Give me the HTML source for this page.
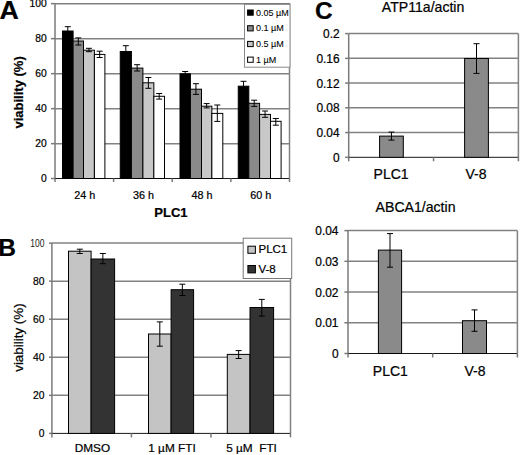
<!DOCTYPE html>
<html><head><meta charset="utf-8"><style>
html,body{margin:0;padding:0;background:#fff;}
svg{display:block;font-family:"Liberation Sans",sans-serif;}
text{fill:#000;stroke:#000;stroke-width:0.22px;}
</style></head><body>
<svg width="520" height="455" viewBox="0 0 520 455">
<rect width="520" height="455" fill="#fff"/>
<line x1="55" y1="3.65" x2="289.5" y2="3.65" stroke="#828282" stroke-width="1.5"/>
<line x1="55" y1="38.65" x2="289.5" y2="38.65" stroke="#828282" stroke-width="1.5"/>
<line x1="55" y1="73.65" x2="289.5" y2="73.65" stroke="#828282" stroke-width="1.5"/>
<line x1="55" y1="108.65" x2="289.5" y2="108.65" stroke="#828282" stroke-width="1.5"/>
<line x1="55" y1="143.65" x2="289.5" y2="143.65" stroke="#828282" stroke-width="1.5"/>
<line x1="51" y1="3.65" x2="55" y2="3.65" stroke="#7a7a7a" stroke-width="1.5"/>
<line x1="51" y1="38.65" x2="55" y2="38.65" stroke="#7a7a7a" stroke-width="1.5"/>
<line x1="51" y1="73.65" x2="55" y2="73.65" stroke="#7a7a7a" stroke-width="1.5"/>
<line x1="51" y1="108.65" x2="55" y2="108.65" stroke="#7a7a7a" stroke-width="1.5"/>
<line x1="51" y1="143.65" x2="55" y2="143.65" stroke="#7a7a7a" stroke-width="1.5"/>
<line x1="51" y1="178.5" x2="55" y2="178.5" stroke="#7a7a7a" stroke-width="1.5"/>
<line x1="289.5" y1="3.65" x2="289.5" y2="178.5" stroke="#828282" stroke-width="1.5"/>
<line x1="55" y1="3.65" x2="55" y2="178.5" stroke="#7a7a7a" stroke-width="1.5"/>
<line x1="55" y1="178.5" x2="289.5" y2="178.5" stroke="#1a1a1a" stroke-width="1"/>
<line x1="55" y1="178.5" x2="55" y2="182" stroke="#7a7a7a" stroke-width="1.5"/>
<line x1="113.62" y1="178.5" x2="113.62" y2="182" stroke="#7a7a7a" stroke-width="1.5"/>
<line x1="172.25" y1="178.5" x2="172.25" y2="182" stroke="#7a7a7a" stroke-width="1.5"/>
<line x1="230.88" y1="178.5" x2="230.88" y2="182" stroke="#7a7a7a" stroke-width="1.5"/>
<line x1="289.5" y1="178.5" x2="289.5" y2="182" stroke="#7a7a7a" stroke-width="1.5"/>
<rect x="62.5" y="31" width="10.6" height="147.5" fill="#000" stroke="#000" stroke-width="1"/>
<rect x="73.1" y="41" width="10.4" height="137.5" fill="#8a8a8a" stroke="#000" stroke-width="1"/>
<rect x="83.5" y="50.2" width="10.9" height="128.3" fill="#c8c8c8" stroke="#000" stroke-width="1"/>
<rect x="94.4" y="54.4" width="10.5" height="124.1" fill="#fff" stroke="#000" stroke-width="1"/>
<line x1="67.8" y1="26.7" x2="67.8" y2="35.3" stroke="#000" stroke-width="1"/>
<line x1="64.8" y1="26.7" x2="70.8" y2="26.7" stroke="#000" stroke-width="1"/>
<line x1="64.8" y1="35.3" x2="70.8" y2="35.3" stroke="#000" stroke-width="1"/>
<line x1="78.3" y1="37.9" x2="78.3" y2="45" stroke="#000" stroke-width="1"/>
<line x1="75.3" y1="37.9" x2="81.3" y2="37.9" stroke="#000" stroke-width="1"/>
<line x1="75.3" y1="45" x2="81.3" y2="45" stroke="#000" stroke-width="1"/>
<line x1="88.95" y1="48.3" x2="88.95" y2="51.7" stroke="#000" stroke-width="1"/>
<line x1="85.95" y1="48.3" x2="91.95" y2="48.3" stroke="#000" stroke-width="1"/>
<line x1="85.95" y1="51.7" x2="91.95" y2="51.7" stroke="#000" stroke-width="1"/>
<line x1="99.65" y1="51.2" x2="99.65" y2="57.5" stroke="#000" stroke-width="1"/>
<line x1="96.65" y1="51.2" x2="102.65" y2="51.2" stroke="#000" stroke-width="1"/>
<line x1="96.65" y1="57.5" x2="102.65" y2="57.5" stroke="#000" stroke-width="1"/>
<rect x="120.25" y="51.5" width="11.15" height="127" fill="#000" stroke="#000" stroke-width="1"/>
<rect x="131.4" y="68.1" width="11.5" height="110.4" fill="#8a8a8a" stroke="#000" stroke-width="1"/>
<rect x="142.9" y="82.8" width="10.95" height="95.7" fill="#c8c8c8" stroke="#000" stroke-width="1"/>
<rect x="153.85" y="96.3" width="10.65" height="82.2" fill="#fff" stroke="#000" stroke-width="1"/>
<line x1="125.83" y1="45.7" x2="125.83" y2="57.3" stroke="#000" stroke-width="1"/>
<line x1="122.83" y1="45.7" x2="128.82" y2="45.7" stroke="#000" stroke-width="1"/>
<line x1="122.83" y1="57.3" x2="128.82" y2="57.3" stroke="#000" stroke-width="1"/>
<line x1="137.15" y1="64.7" x2="137.15" y2="71" stroke="#000" stroke-width="1"/>
<line x1="134.15" y1="64.7" x2="140.15" y2="64.7" stroke="#000" stroke-width="1"/>
<line x1="134.15" y1="71" x2="140.15" y2="71" stroke="#000" stroke-width="1"/>
<line x1="148.38" y1="77.5" x2="148.38" y2="88.3" stroke="#000" stroke-width="1"/>
<line x1="145.38" y1="77.5" x2="151.38" y2="77.5" stroke="#000" stroke-width="1"/>
<line x1="145.38" y1="88.3" x2="151.38" y2="88.3" stroke="#000" stroke-width="1"/>
<line x1="159.18" y1="93.5" x2="159.18" y2="99.1" stroke="#000" stroke-width="1"/>
<line x1="156.18" y1="93.5" x2="162.18" y2="93.5" stroke="#000" stroke-width="1"/>
<line x1="156.18" y1="99.1" x2="162.18" y2="99.1" stroke="#000" stroke-width="1"/>
<rect x="180" y="73.8" width="10.4" height="104.7" fill="#000" stroke="#000" stroke-width="1"/>
<rect x="190.4" y="89.2" width="11.1" height="89.3" fill="#8a8a8a" stroke="#000" stroke-width="1"/>
<rect x="201.5" y="106.2" width="10.35" height="72.3" fill="#c8c8c8" stroke="#000" stroke-width="1"/>
<rect x="211.85" y="113.4" width="10.95" height="65.1" fill="#fff" stroke="#000" stroke-width="1"/>
<line x1="185.2" y1="71.5" x2="185.2" y2="76.1" stroke="#000" stroke-width="1"/>
<line x1="182.2" y1="71.5" x2="188.2" y2="71.5" stroke="#000" stroke-width="1"/>
<line x1="182.2" y1="76.1" x2="188.2" y2="76.1" stroke="#000" stroke-width="1"/>
<line x1="195.95" y1="83.7" x2="195.95" y2="94.4" stroke="#000" stroke-width="1"/>
<line x1="192.95" y1="83.7" x2="198.95" y2="83.7" stroke="#000" stroke-width="1"/>
<line x1="192.95" y1="94.4" x2="198.95" y2="94.4" stroke="#000" stroke-width="1"/>
<line x1="206.68" y1="103.6" x2="206.68" y2="107.9" stroke="#000" stroke-width="1"/>
<line x1="203.68" y1="103.6" x2="209.68" y2="103.6" stroke="#000" stroke-width="1"/>
<line x1="203.68" y1="107.9" x2="209.68" y2="107.9" stroke="#000" stroke-width="1"/>
<line x1="217.32" y1="105" x2="217.32" y2="121.4" stroke="#000" stroke-width="1"/>
<line x1="214.32" y1="105" x2="220.32" y2="105" stroke="#000" stroke-width="1"/>
<line x1="214.32" y1="121.4" x2="220.32" y2="121.4" stroke="#000" stroke-width="1"/>
<rect x="238.25" y="86.2" width="10.55" height="92.3" fill="#000" stroke="#000" stroke-width="1"/>
<rect x="248.8" y="103.3" width="10.8" height="75.2" fill="#8a8a8a" stroke="#000" stroke-width="1"/>
<rect x="259.6" y="114.4" width="10.9" height="64.1" fill="#c8c8c8" stroke="#000" stroke-width="1"/>
<rect x="270.5" y="121.3" width="10.6" height="57.2" fill="#fff" stroke="#000" stroke-width="1"/>
<line x1="243.53" y1="81.3" x2="243.53" y2="91.1" stroke="#000" stroke-width="1"/>
<line x1="240.53" y1="81.3" x2="246.53" y2="81.3" stroke="#000" stroke-width="1"/>
<line x1="240.53" y1="91.1" x2="246.53" y2="91.1" stroke="#000" stroke-width="1"/>
<line x1="254.2" y1="100.2" x2="254.2" y2="106.4" stroke="#000" stroke-width="1"/>
<line x1="251.2" y1="100.2" x2="257.2" y2="100.2" stroke="#000" stroke-width="1"/>
<line x1="251.2" y1="106.4" x2="257.2" y2="106.4" stroke="#000" stroke-width="1"/>
<line x1="265.05" y1="111" x2="265.05" y2="117.3" stroke="#000" stroke-width="1"/>
<line x1="262.05" y1="111" x2="268.05" y2="111" stroke="#000" stroke-width="1"/>
<line x1="262.05" y1="117.3" x2="268.05" y2="117.3" stroke="#000" stroke-width="1"/>
<line x1="275.8" y1="118.5" x2="275.8" y2="125.2" stroke="#000" stroke-width="1"/>
<line x1="272.8" y1="118.5" x2="278.8" y2="118.5" stroke="#000" stroke-width="1"/>
<line x1="272.8" y1="125.2" x2="278.8" y2="125.2" stroke="#000" stroke-width="1"/>
<rect x="244.5" y="4" width="45.5" height="63.2" fill="#fff" stroke="#8a8a8a" stroke-width="1"/>
<line x1="244.5" y1="4" x2="290" y2="4" stroke="#6a6a6a" stroke-width="1"/>
<rect x="247.6" y="10" width="5.6" height="5.2" fill="#000" stroke="#000" stroke-width="1"/>
<text x="256" y="15.6" font-size="9" text-anchor="start" font-weight="normal" style="stroke-width:0.08px">0.05 µM</text>
<rect x="247.6" y="25.7" width="5.6" height="5.2" fill="#8a8a8a" stroke="#000" stroke-width="1"/>
<text x="256" y="31.3" font-size="9" text-anchor="start" font-weight="normal" style="stroke-width:0.08px">0.1 µM</text>
<rect x="247.6" y="41.4" width="5.6" height="5.2" fill="#c8c8c8" stroke="#000" stroke-width="1"/>
<text x="256" y="47" font-size="9" text-anchor="start" font-weight="normal" style="stroke-width:0.08px">0.5 µM</text>
<rect x="247.6" y="57.1" width="5.6" height="5.2" fill="#fff" stroke="#000" stroke-width="1"/>
<text x="256" y="62.7" font-size="9" text-anchor="start" font-weight="normal" style="stroke-width:0.08px">1 µM</text>
<text x="46.8" y="7.35" font-size="10.3" text-anchor="end" font-weight="normal" >100</text>
<text x="46.8" y="42.35" font-size="10.3" text-anchor="end" font-weight="normal" >80</text>
<text x="46.8" y="77.35" font-size="10.3" text-anchor="end" font-weight="normal" >60</text>
<text x="46.8" y="112.35" font-size="10.3" text-anchor="end" font-weight="normal" >40</text>
<text x="46.8" y="147.35" font-size="10.3" text-anchor="end" font-weight="normal" >20</text>
<text x="46.8" y="182.2" font-size="10.3" text-anchor="end" font-weight="normal" >0</text>
<text x="84.81" y="198.7" font-size="10.8" text-anchor="middle" font-weight="normal" >24 h</text>
<text x="143.44" y="198.7" font-size="10.8" text-anchor="middle" font-weight="normal" >36 h</text>
<text x="202.06" y="198.7" font-size="10.8" text-anchor="middle" font-weight="normal" >48 h</text>
<text x="260.69" y="198.7" font-size="10.8" text-anchor="middle" font-weight="normal" >60 h</text>
<text x="170.9" y="217.2" font-size="13" text-anchor="middle" font-weight="bold" >PLC1</text>
<text x="0" y="0" font-size="25" text-anchor="start" font-weight="bold" transform="translate(-0.6,18.6) scale(1.07,1)">A</text>
<text x="0" y="0" font-size="13" text-anchor="middle" font-weight="bold" transform="translate(22.9,92.4) rotate(-90)">viability (%)</text>
<line x1="51.9" y1="243.1" x2="290.5" y2="243.1" stroke="#828282" stroke-width="1.5"/>
<line x1="51.9" y1="281.16" x2="290.5" y2="281.16" stroke="#828282" stroke-width="1.5"/>
<line x1="51.9" y1="319.22" x2="290.5" y2="319.22" stroke="#828282" stroke-width="1.5"/>
<line x1="51.9" y1="357.28" x2="290.5" y2="357.28" stroke="#828282" stroke-width="1.5"/>
<line x1="51.9" y1="395.34" x2="290.5" y2="395.34" stroke="#828282" stroke-width="1.5"/>
<line x1="49" y1="243.1" x2="51.9" y2="243.1" stroke="#7a7a7a" stroke-width="1.5"/>
<line x1="49" y1="281.16" x2="51.9" y2="281.16" stroke="#7a7a7a" stroke-width="1.5"/>
<line x1="49" y1="319.22" x2="51.9" y2="319.22" stroke="#7a7a7a" stroke-width="1.5"/>
<line x1="49" y1="357.28" x2="51.9" y2="357.28" stroke="#7a7a7a" stroke-width="1.5"/>
<line x1="49" y1="395.34" x2="51.9" y2="395.34" stroke="#7a7a7a" stroke-width="1.5"/>
<line x1="49" y1="433.4" x2="51.9" y2="433.4" stroke="#7a7a7a" stroke-width="1.5"/>
<line x1="290.5" y1="243.1" x2="290.5" y2="433.4" stroke="#828282" stroke-width="1.5"/>
<line x1="51.9" y1="243.1" x2="51.9" y2="433.4" stroke="#7a7a7a" stroke-width="1.5"/>
<line x1="51.9" y1="433.4" x2="290.5" y2="433.4" stroke="#1a1a1a" stroke-width="1"/>
<line x1="51.9" y1="433.4" x2="51.9" y2="437.4" stroke="#7a7a7a" stroke-width="1.5"/>
<line x1="131.43" y1="433.4" x2="131.43" y2="437.4" stroke="#7a7a7a" stroke-width="1.5"/>
<line x1="210.97" y1="433.4" x2="210.97" y2="437.4" stroke="#7a7a7a" stroke-width="1.5"/>
<line x1="290.5" y1="433.4" x2="290.5" y2="437.4" stroke="#7a7a7a" stroke-width="1.5"/>
<rect x="68.5" y="251.2" width="22.6" height="182.2" fill="#c4c4c4" stroke="#000" stroke-width="1"/>
<rect x="91.1" y="259" width="23.5" height="174.4" fill="#333" stroke="#000" stroke-width="1"/>
<line x1="79.8" y1="249.2" x2="79.8" y2="253.5" stroke="#000" stroke-width="1"/>
<line x1="76.8" y1="249.2" x2="82.8" y2="249.2" stroke="#000" stroke-width="1"/>
<line x1="76.8" y1="253.5" x2="82.8" y2="253.5" stroke="#000" stroke-width="1"/>
<line x1="102.85" y1="253.5" x2="102.85" y2="263.7" stroke="#000" stroke-width="1"/>
<line x1="99.85" y1="253.5" x2="105.85" y2="253.5" stroke="#000" stroke-width="1"/>
<line x1="99.85" y1="263.7" x2="105.85" y2="263.7" stroke="#000" stroke-width="1"/>
<rect x="148.5" y="334" width="22.6" height="99.4" fill="#c4c4c4" stroke="#000" stroke-width="1"/>
<rect x="171.1" y="289.7" width="22.5" height="143.7" fill="#333" stroke="#000" stroke-width="1"/>
<line x1="159.8" y1="321.9" x2="159.8" y2="346.2" stroke="#000" stroke-width="1"/>
<line x1="156.8" y1="321.9" x2="162.8" y2="321.9" stroke="#000" stroke-width="1"/>
<line x1="156.8" y1="346.2" x2="162.8" y2="346.2" stroke="#000" stroke-width="1"/>
<line x1="182.35" y1="284.2" x2="182.35" y2="295.5" stroke="#000" stroke-width="1"/>
<line x1="179.35" y1="284.2" x2="185.35" y2="284.2" stroke="#000" stroke-width="1"/>
<line x1="179.35" y1="295.5" x2="185.35" y2="295.5" stroke="#000" stroke-width="1"/>
<rect x="227.3" y="354.4" width="22.7" height="79" fill="#c4c4c4" stroke="#000" stroke-width="1"/>
<rect x="250" y="307.5" width="23.6" height="125.9" fill="#333" stroke="#000" stroke-width="1"/>
<line x1="238.65" y1="350.6" x2="238.65" y2="358.5" stroke="#000" stroke-width="1"/>
<line x1="235.65" y1="350.6" x2="241.65" y2="350.6" stroke="#000" stroke-width="1"/>
<line x1="235.65" y1="358.5" x2="241.65" y2="358.5" stroke="#000" stroke-width="1"/>
<line x1="261.8" y1="299.4" x2="261.8" y2="316.1" stroke="#000" stroke-width="1"/>
<line x1="258.8" y1="299.4" x2="264.8" y2="299.4" stroke="#000" stroke-width="1"/>
<line x1="258.8" y1="316.1" x2="264.8" y2="316.1" stroke="#000" stroke-width="1"/>
<rect x="243.2" y="238.2" width="48.5" height="40.3" fill="#fff" stroke="#777" stroke-width="1"/>
<rect x="247.9" y="246.2" width="7.5" height="7.1" fill="#c4c4c4" stroke="#000" stroke-width="1"/>
<rect x="247.9" y="265.5" width="7.5" height="7.4" fill="#333" stroke="#000" stroke-width="1"/>
<text x="258.5" y="253.2" font-size="11.5" text-anchor="start" font-weight="normal" >PLC1</text>
<text x="258.5" y="273.2" font-size="11.5" text-anchor="start" font-weight="normal" >V-8</text>
<text x="30.3" y="247" font-size="10.6" textLength="14.2" lengthAdjust="spacingAndGlyphs" style="stroke:none;fill:#1a1a1a">100</text>
<text x="44.4" y="284.86" font-size="10.3" text-anchor="end" font-weight="normal" >80</text>
<text x="44.4" y="322.92" font-size="10.3" text-anchor="end" font-weight="normal" >60</text>
<text x="44.4" y="360.98" font-size="10.3" text-anchor="end" font-weight="normal" >40</text>
<text x="44.4" y="399.04" font-size="10.3" text-anchor="end" font-weight="normal" >20</text>
<text x="44.4" y="437.1" font-size="10.3" text-anchor="end" font-weight="normal" >0</text>
<text x="92.47" y="451.5" font-size="11.8" text-anchor="middle" font-weight="normal" >DMSO</text>
<text x="172" y="451.5" font-size="11.8" text-anchor="middle" font-weight="normal" >1 µM FTI</text>
<text x="251.53" y="451.5" font-size="11.8" text-anchor="middle" font-weight="normal" >5 µM &#160;FTI</text>
<text x="-1.7" y="256.4" font-size="24.5" text-anchor="start" font-weight="bold" >B</text>
<text x="0" y="0" font-size="13.4" text-anchor="middle" font-weight="normal" transform="translate(23.0,337.6) rotate(-90)">viability (%)</text>
<line x1="348.7" y1="33.6" x2="518.4" y2="33.6" stroke="#828282" stroke-width="1.5"/>
<line x1="348.7" y1="58.34" x2="518.4" y2="58.34" stroke="#828282" stroke-width="1.5"/>
<line x1="348.7" y1="83.08" x2="518.4" y2="83.08" stroke="#828282" stroke-width="1.5"/>
<line x1="348.7" y1="107.82" x2="518.4" y2="107.82" stroke="#828282" stroke-width="1.5"/>
<line x1="348.7" y1="132.56" x2="518.4" y2="132.56" stroke="#828282" stroke-width="1.5"/>
<line x1="345.1" y1="33.6" x2="348.7" y2="33.6" stroke="#7a7a7a" stroke-width="1.5"/>
<line x1="345.1" y1="58.34" x2="348.7" y2="58.34" stroke="#7a7a7a" stroke-width="1.5"/>
<line x1="345.1" y1="83.08" x2="348.7" y2="83.08" stroke="#7a7a7a" stroke-width="1.5"/>
<line x1="345.1" y1="107.82" x2="348.7" y2="107.82" stroke="#7a7a7a" stroke-width="1.5"/>
<line x1="345.1" y1="132.56" x2="348.7" y2="132.56" stroke="#7a7a7a" stroke-width="1.5"/>
<line x1="345.1" y1="157.3" x2="348.7" y2="157.3" stroke="#7a7a7a" stroke-width="1.5"/>
<line x1="518.4" y1="33.6" x2="518.4" y2="157.3" stroke="#828282" stroke-width="1.5"/>
<line x1="348.7" y1="33.6" x2="348.7" y2="157.3" stroke="#7a7a7a" stroke-width="1.5"/>
<line x1="348.7" y1="157.3" x2="518.4" y2="157.3" stroke="#1a1a1a" stroke-width="1"/>
<line x1="348.7" y1="157.3" x2="348.7" y2="161.3" stroke="#7a7a7a" stroke-width="1.5"/>
<line x1="433.55" y1="157.3" x2="433.55" y2="161.3" stroke="#7a7a7a" stroke-width="1.5"/>
<line x1="518.4" y1="157.3" x2="518.4" y2="161.3" stroke="#7a7a7a" stroke-width="1.5"/>
<rect x="379.6" y="136.1" width="23.7" height="21.2" fill="#8a8a8a" stroke="#000" stroke-width="1"/>
<rect x="464.6" y="58.5" width="23.8" height="98.8" fill="#8a8a8a" stroke="#000" stroke-width="1"/>
<line x1="391.45" y1="132.1" x2="391.45" y2="140.1" stroke="#000" stroke-width="1"/>
<line x1="388.45" y1="132.1" x2="394.45" y2="132.1" stroke="#000" stroke-width="1"/>
<line x1="388.45" y1="140.1" x2="394.45" y2="140.1" stroke="#000" stroke-width="1"/>
<line x1="476.5" y1="43.7" x2="476.5" y2="73.4" stroke="#000" stroke-width="1"/>
<line x1="473.5" y1="43.7" x2="479.5" y2="43.7" stroke="#000" stroke-width="1"/>
<line x1="473.5" y1="73.4" x2="479.5" y2="73.4" stroke="#000" stroke-width="1"/>
<text x="339.6" y="38.1" font-size="11.9" text-anchor="end" font-weight="normal" >0.2</text>
<text x="339.6" y="62.84" font-size="11.9" text-anchor="end" font-weight="normal" >0.16</text>
<text x="339.6" y="87.58" font-size="11.9" text-anchor="end" font-weight="normal" >0.12</text>
<text x="339.6" y="112.32" font-size="11.9" text-anchor="end" font-weight="normal" >0.08</text>
<text x="339.6" y="137.06" font-size="11.9" text-anchor="end" font-weight="normal" >0.04</text>
<text x="339.6" y="161.7" font-size="11.9" text-anchor="end" font-weight="normal" >0</text>
<text x="391.12" y="178.75" font-size="14" text-anchor="middle" font-weight="normal" >PLC1</text>
<text x="475.97" y="178.75" font-size="14" text-anchor="middle" font-weight="normal" >V-8</text>
<text x="381.8" y="12.4" font-size="14.1" text-anchor="start" font-weight="normal" >ATP11a/actin</text>
<line x1="348" y1="230.6" x2="517.4" y2="230.6" stroke="#828282" stroke-width="1.5"/>
<line x1="348" y1="261.32" x2="517.4" y2="261.32" stroke="#828282" stroke-width="1.5"/>
<line x1="348" y1="292.05" x2="517.4" y2="292.05" stroke="#828282" stroke-width="1.5"/>
<line x1="348" y1="322.77" x2="517.4" y2="322.77" stroke="#828282" stroke-width="1.5"/>
<line x1="344.4" y1="230.6" x2="348" y2="230.6" stroke="#7a7a7a" stroke-width="1.5"/>
<line x1="344.4" y1="261.32" x2="348" y2="261.32" stroke="#7a7a7a" stroke-width="1.5"/>
<line x1="344.4" y1="292.05" x2="348" y2="292.05" stroke="#7a7a7a" stroke-width="1.5"/>
<line x1="344.4" y1="322.77" x2="348" y2="322.77" stroke="#7a7a7a" stroke-width="1.5"/>
<line x1="344.4" y1="353.5" x2="348" y2="353.5" stroke="#7a7a7a" stroke-width="1.5"/>
<line x1="517.4" y1="230.6" x2="517.4" y2="353.5" stroke="#828282" stroke-width="1.5"/>
<line x1="348" y1="230.6" x2="348" y2="353.5" stroke="#7a7a7a" stroke-width="1.5"/>
<line x1="348" y1="353.5" x2="517.4" y2="353.5" stroke="#1a1a1a" stroke-width="1"/>
<line x1="348" y1="353.5" x2="348" y2="357.5" stroke="#7a7a7a" stroke-width="1.5"/>
<line x1="432.7" y1="353.5" x2="432.7" y2="357.5" stroke="#7a7a7a" stroke-width="1.5"/>
<line x1="517.4" y1="353.5" x2="517.4" y2="357.5" stroke="#7a7a7a" stroke-width="1.5"/>
<rect x="378.4" y="250.1" width="23.2" height="103.4" fill="#8a8a8a" stroke="#000" stroke-width="1"/>
<rect x="462.5" y="320.7" width="24" height="32.8" fill="#8a8a8a" stroke="#000" stroke-width="1"/>
<line x1="390" y1="233.6" x2="390" y2="267.2" stroke="#000" stroke-width="1"/>
<line x1="387" y1="233.6" x2="393" y2="233.6" stroke="#000" stroke-width="1"/>
<line x1="387" y1="267.2" x2="393" y2="267.2" stroke="#000" stroke-width="1"/>
<line x1="474.5" y1="309.9" x2="474.5" y2="331.3" stroke="#000" stroke-width="1"/>
<line x1="471.5" y1="309.9" x2="477.5" y2="309.9" stroke="#000" stroke-width="1"/>
<line x1="471.5" y1="331.3" x2="477.5" y2="331.3" stroke="#000" stroke-width="1"/>
<text x="338.5" y="235.1" font-size="11.9" text-anchor="end" font-weight="normal" >0.04</text>
<text x="338.5" y="265.82" font-size="11.9" text-anchor="end" font-weight="normal" >0.03</text>
<text x="338.5" y="296.55" font-size="11.9" text-anchor="end" font-weight="normal" >0.02</text>
<text x="338.5" y="327.27" font-size="11.9" text-anchor="end" font-weight="normal" >0.01</text>
<text x="338.5" y="357.9" font-size="11.9" text-anchor="end" font-weight="normal" >0</text>
<text x="390.35" y="376.25" font-size="14" text-anchor="middle" font-weight="normal" >PLC1</text>
<text x="475.05" y="376.25" font-size="14" text-anchor="middle" font-weight="normal" >V-8</text>
<text x="375.6" y="211.8" font-size="14.1" text-anchor="start" font-weight="normal" >ABCA1/actin</text>
<text x="315" y="18.8" font-size="24.5" text-anchor="start" font-weight="bold" >C</text>
</svg>
</body></html>
